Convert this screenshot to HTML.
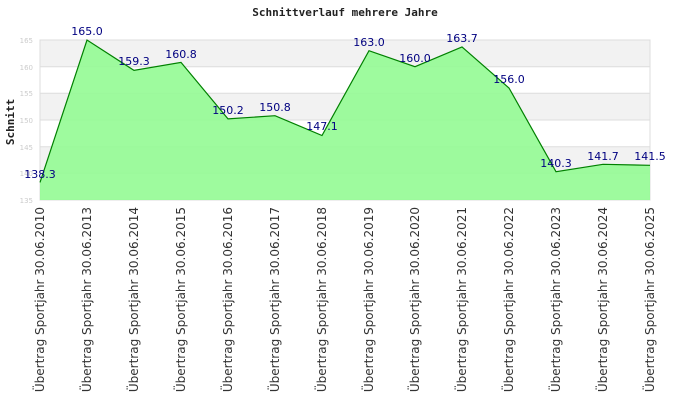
<!DOCTYPE html>
<html><head><style>body{margin:0;background:#fff}svg{display:block}</style></head><body>
<svg width="690" height="420" xmlns="http://www.w3.org/2000/svg">
<text x="345" y="16" text-anchor="middle" font-family="DejaVu Sans Mono, Liberation Mono, monospace" font-weight="bold" font-size="11" fill="#222">Schnittverlauf mehrere Jahre</text>
<text transform="translate(14,122) rotate(-90)" text-anchor="middle" font-family="DejaVu Sans Mono, Liberation Mono, monospace" font-weight="bold" font-size="11" fill="#222">Schnitt</text>
<g>
<rect x="40" y="40" width="610" height="26.7" fill="#f2f2f2"/>
<rect x="40" y="93.3" width="610" height="26.7" fill="#f2f2f2"/>
<rect x="40" y="146.7" width="610" height="26.7" fill="#f2f2f2"/>
<g stroke="#dddddd" stroke-width="1">
<line x1="40" y1="66.7" x2="650" y2="66.7"/><line x1="40" y1="93.3" x2="650" y2="93.3"/>
<line x1="40" y1="120" x2="650" y2="120"/><line x1="40" y1="146.7" x2="650" y2="146.7"/>
<line x1="40" y1="173.3" x2="650" y2="173.3"/>
</g>
<rect x="40" y="40" width="610" height="160" fill="none" stroke="#dddddd"/>
</g>
<g font-family="DejaVu Sans, Liberation Sans, sans-serif" font-size="7" fill="#ccc" text-anchor="end">
<text x="33" y="43">165</text><text x="33" y="70">160</text><text x="33" y="96">155</text>
<text x="33" y="123">150</text><text x="33" y="150">145</text><text x="33" y="176">140</text><text x="33" y="203">135</text>
</g>
<polygon points="40,200 40,182.4 87,40 134,70.4 181,62.4 228,118.9 275,115.7 322,135.5 369,50.7 415,66.7 462,46.9 509,88 556,171.7 603,164.3 650,165.3 650,200" fill="#94fb94" fill-opacity="0.9"/>
<polyline points="40,182.4 87,40 134,70.4 181,62.4 228,118.9 275,115.7 322,135.5 369,50.7 415,66.7 462,46.9 509,88 556,171.7 603,164.3 650,165.3" fill="none" stroke="#008000" stroke-width="1.2"/>
<g font-family="DejaVu Sans, Liberation Sans, sans-serif" font-size="11" fill="#000080" text-anchor="middle">
<text x="40" y="178">138.3</text><text x="87" y="35">165.0</text><text x="134" y="65">159.3</text>
<text x="181" y="58">160.8</text><text x="228" y="114">150.2</text><text x="275" y="111">150.8</text>
<text x="322" y="130">147.1</text><text x="369" y="46">163.0</text><text x="415" y="62">160.0</text>
<text x="462" y="42">163.7</text><text x="509" y="83">156.0</text><text x="556" y="167">140.3</text>
<text x="603" y="160">141.7</text><text x="650" y="160">141.5</text>
</g>
<g font-family="DejaVu Sans, Liberation Sans, sans-serif" font-size="12" fill="#333" text-anchor="end">
<text transform="translate(44,207) rotate(-90)">Übertrag Sportjahr 30.06.2010</text>
<text transform="translate(91,207) rotate(-90)">Übertrag Sportjahr 30.06.2013</text>
<text transform="translate(138,207) rotate(-90)">Übertrag Sportjahr 30.06.2014</text>
<text transform="translate(185,207) rotate(-90)">Übertrag Sportjahr 30.06.2015</text>
<text transform="translate(232,207) rotate(-90)">Übertrag Sportjahr 30.06.2016</text>
<text transform="translate(279,207) rotate(-90)">Übertrag Sportjahr 30.06.2017</text>
<text transform="translate(326,207) rotate(-90)">Übertrag Sportjahr 30.06.2018</text>
<text transform="translate(373,207) rotate(-90)">Übertrag Sportjahr 30.06.2019</text>
<text transform="translate(419,207) rotate(-90)">Übertrag Sportjahr 30.06.2020</text>
<text transform="translate(466,207) rotate(-90)">Übertrag Sportjahr 30.06.2021</text>
<text transform="translate(513,207) rotate(-90)">Übertrag Sportjahr 30.06.2022</text>
<text transform="translate(560,207) rotate(-90)">Übertrag Sportjahr 30.06.2023</text>
<text transform="translate(607,207) rotate(-90)">Übertrag Sportjahr 30.06.2024</text>
<text transform="translate(654,207) rotate(-90)">Übertrag Sportjahr 30.06.2025</text>
</g>
</svg>
</body></html>
